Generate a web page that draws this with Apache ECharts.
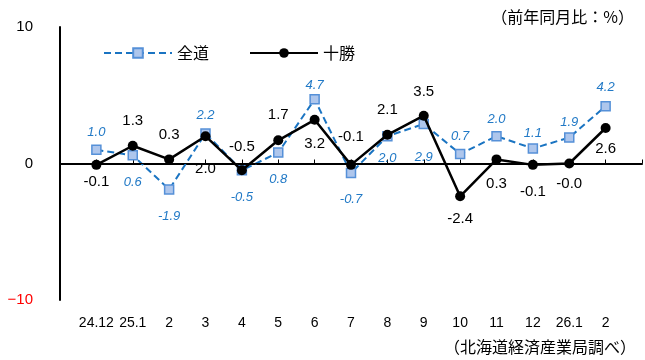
<!DOCTYPE html>
<html>
<head>
<meta charset="utf-8">
<script src="https://cdn.jsdelivr.net/npm/echarts@6/dist/echarts.min.js"></script>
<style>
  html, body { margin: 0; padding: 0; background: #fff; }
  #chart { width: 645px; height: 360px; }
</style>
</head>
<body>
<div id="chart"></div>
<script>
// 前年同月比（%）
const categories = ['24.12', '25.1', '2', '3', '4', '5', '6', '7', '8', '9', '10', '11', '12', '26.1', '2']
const zendoValues = [1.0, 0.6, -1.9, 2.2, -0.5, 0.8, 4.7, -0.7, 2.0, 2.9, 0.7, 2.0, 1.1, 1.9, 4.2]
const tokachiValues = [-0.1, 1.3, 0.3, 2.0, -0.5, 1.7, 3.2, -0.1, 2.1, 3.5, -2.4, 0.3, -0.1, -0.0, 2.6]
const yTicks = [-10, 0, 10]

// label placement (hand placed in the original)
const zendoLabelPos = ['top', 'bottom', 'bottom', 'top', 'bottom', 'bottom', 'top', 'bottom', 'bottom', 'bottom', 'top', 'top', 'top', 'top', 'top']
const zendoLabelDist = [6, 15, 15, 6, 15, 15, 2, 15, 10, 22, 6, 5, 3, 3, 7]
const tokachiLabelPos = ['bottom', 'top', 'top', 'bottom', 'top', 'top', 'bottom', 'top', 'top', 'top', 'bottom', 'bottom', 'bottom', 'bottom', 'bottom']
const tokachiLabelDist = [4, 12, 12, 20, 11, 13, 12, 16, 12, 11, 10, 12, 14, 8, 8]

const numFont = '"Liberation Sans", Arial, sans-serif'
const jpFont = '"Noto Sans CJK JP", sans-serif'

const fmt = v => (v < 0 || Object.is(v, -0)) ? '-' + Math.abs(v).toFixed(1) : v.toFixed(1)

const buildData = (values, pos, dist) => values.map((v, i) => ({
  value: [i + 1, v],
  raw: v,
  label: { position: pos[i], distance: dist[i] }
}))

const chart = echarts.init(document.getElementById('chart'))
chart.setOption({
  animation: false,
  title: [
    {
      text: '（前年同月比：%）',
      right: 6, top: 4,
      textStyle: { fontFamily: jpFont, fontSize: 16, fontWeight: 'normal', color: '#000' }
    },
    {
      text: '（北海道経済産業局調べ）',
      right: 4, bottom: 0,
      textStyle: { fontFamily: jpFont, fontSize: 16, fontWeight: 'normal', color: '#000' }
    }
  ],
  legend: {
    left: 98, top: 40,
    itemWidth: 68, itemHeight: 12, itemGap: 40,
    textStyle: { fontFamily: jpFont, fontSize: 16, color: '#000' },
    data: ['全道', '十勝']
  },
  grid: { left: 60, right: 0, top: 27, bottom: 60 },
  xAxis: {
    type: 'value',
    min: 0, max: 16, interval: 1,
    splitLine: { show: false },
    axisLine: { lineStyle: { color: '#000', width: 2 } },
    axisTick: { inside: true, length: 4, lineStyle: { color: '#000', width: 1 } },
    axisLabel: {
      margin: 16,
      color: '#000',
      fontFamily: numFont,
      fontSize: 14,
      formatter: v => categories[v - 1] || ''
    }
  },
  yAxis: {
    type: 'value',
    min: yTicks[0], max: yTicks[2], interval: 10,
    splitLine: { show: false },
    axisLine: { show: true, lineStyle: { color: '#000', width: 2 } },
    axisTick: { show: false },
    axisLabel: {
      margin: 27,
      fontFamily: numFont,
      fontSize: 15,
      color: v => (Number(v) < 0 ? '#ff0000' : '#000'),
      formatter: v => (v < 0 ? '\u2212' + Math.abs(v) : String(v))
    }
  },
  series: [
    {
      name: '全道',
      type: 'line',
      z: 2,
      data: buildData(zendoValues, zendoLabelPos, zendoLabelDist),
      symbol: 'rect',
      symbolSize: 9,
      lineStyle: { color: '#1a74c2', width: 2, type: [7, 4] },
      itemStyle: { color: '#aec6ec', borderColor: '#5590d8', borderWidth: 1.5 },
      label: {
        show: true,
        color: '#2179c6',
        fontFamily: numFont,
        fontStyle: 'italic',
        fontSize: 13,
        formatter: p => fmt(p.data.raw)
      }
    },
    {
      name: '十勝',
      type: 'line',
      z: 3,
      data: buildData(tokachiValues, tokachiLabelPos, tokachiLabelDist),
      symbol: 'circle',
      symbolSize: 10,
      lineStyle: { color: '#000', width: 2.5 },
      itemStyle: { color: '#000' },
      label: {
        show: true,
        color: '#000',
        fontFamily: numFont,
        fontSize: 15,
        formatter: p => fmt(p.data.raw)
      },
      markLine: {
        silent: true,
        symbol: 'none',
        label: { show: false },
        lineStyle: { color: '#000', width: 1, type: 'solid' },
        data: [{ yAxis: 0 }]
      }
    }
  ]
})
</script>
</body>
</html>
